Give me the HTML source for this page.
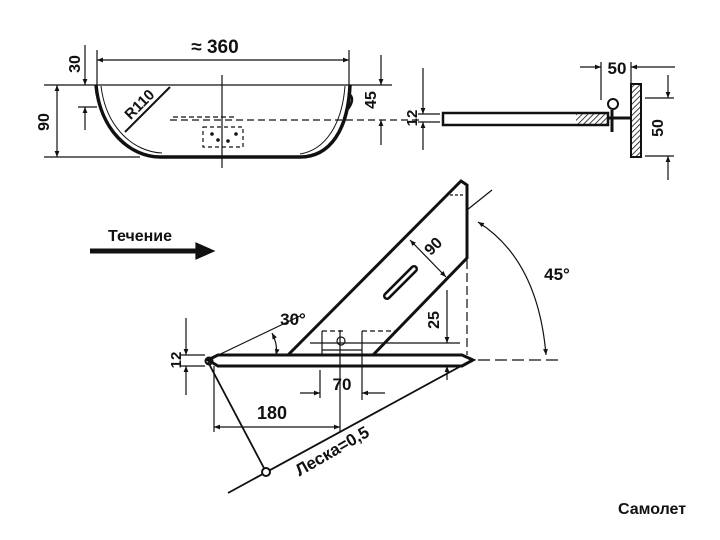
<!DOCTYPE html>
<html><head><meta charset="utf-8"><style>
html,body{margin:0;padding:0;background:#fff}
svg{display:block}
text{font-family:"Liberation Sans",sans-serif;font-weight:bold;fill:#111}
</style></head><body>
<svg width="720" height="540" viewBox="0 0 720 540" xmlns="http://www.w3.org/2000/svg">
<defs>
<marker id="a" viewBox="0 0 10 10" refX="10" refY="5" markerWidth="7" markerHeight="5" orient="auto-start-reverse"><path d="M0,1L10,5L0,9z" fill="#111"/></marker>
<pattern id="h" width="4" height="4" patternUnits="userSpaceOnUse" patternTransform="rotate(45)"><line x1="0" y1="0" x2="0" y2="4" stroke="#111" stroke-width="1.6"/></pattern>
</defs>
<g stroke="#111" fill="none" stroke-width="1.2">
<!-- top view -->
<line x1="44" y1="85" x2="392" y2="85"/>
<line x1="44" y1="157" x2="140" y2="157"/>
<path d="M96,85 C100,130 130,157 160,157 L300,157 C330,157 348,130 350,85" stroke-width="3.5"/>
<path d="M101,86 C106,128 134,152 162,153" stroke-width="1"/>
<path d="M345,86 C342,125 325,150 300,154" stroke-width="1"/>
<line x1="57" y1="85" x2="57" y2="157" marker-start="url(#a)" marker-end="url(#a)"/>
<line x1="85" y1="45" x2="85" y2="85" marker-end="url(#a)"/>
<line x1="85" y1="130" x2="85" y2="107" marker-end="url(#a)"/>
<line x1="78" y1="107" x2="97" y2="107"/>
<line x1="97" y1="50" x2="97" y2="85"/>
<line x1="349" y1="50" x2="349" y2="85"/>
<line x1="97" y1="60" x2="349" y2="60" marker-start="url(#a)" marker-end="url(#a)"/>
<line x1="170" y1="87" x2="125" y2="132" stroke-width="2"/>
<line x1="222" y1="75" x2="222" y2="168"/>
<line x1="170" y1="120" x2="420" y2="120" stroke-dasharray="7,4"/>
<line x1="173" y1="117" x2="235" y2="117" stroke-dasharray="5,3"/>
<rect x="203" y="127" width="40" height="20" stroke-dasharray="4,3"/>
<circle cx="212" cy="134" r="1.2" fill="#111"/><circle cx="236" cy="134" r="1.2" fill="#111"/><circle cx="218" cy="140" r="1.2" fill="#111"/><circle cx="228" cy="141" r="1.2" fill="#111"/>
<path d="M348,93 q8,5 0,16" stroke-width="2.5"/>
<line x1="381" y1="55" x2="381" y2="85" marker-end="url(#a)"/>
<line x1="381" y1="145" x2="381" y2="120" marker-end="url(#a)"/>
<!-- rod -->
<line x1="423" y1="68" x2="423" y2="114" marker-end="url(#a)"/>
<line x1="423" y1="150" x2="423" y2="122" marker-end="url(#a)"/>
<line x1="418" y1="114" x2="440" y2="114"/><line x1="418" y1="122" x2="440" y2="122"/>
<rect x="443" y="113" width="165" height="12" stroke-width="2.5"/>
<rect x="576" y="114" width="32" height="10" fill="url(#h)" stroke="none"/>
<line x1="608" y1="118" x2="631" y2="118" stroke-width="3"/>
<rect x="631" y="84" width="10" height="73" fill="url(#h)" stroke-width="2"/>
<circle cx="613" cy="104" r="5" stroke-width="2"/>
<line x1="612" y1="110" x2="612" y2="132" stroke-width="3"/>
<line x1="601" y1="62" x2="601" y2="100"/><line x1="631" y1="62" x2="631" y2="84"/>
<line x1="580" y1="67" x2="601" y2="67" marker-end="url(#a)"/>
<line x1="675" y1="67" x2="631" y2="67" marker-end="url(#a)"/>
<line x1="668" y1="75" x2="668" y2="98" marker-end="url(#a)"/>
<line x1="668" y1="180" x2="668" y2="156" marker-end="url(#a)"/>
<line x1="645" y1="98" x2="674" y2="98"/><line x1="645" y1="156" x2="674" y2="156"/>
<!-- flow arrow -->
<line x1="90" y1="251" x2="198" y2="251" stroke-width="5"/>
<path d="M196,243 L214,251 L196,259 z" fill="#111"/>
<!-- main -->
<path d="M208,360 L218,355 L462,355 L473,360 L462,366 L218,366 z" stroke-width="3"/>
<circle cx="209" cy="361" r="3.5" stroke-width="2"/>
<path d="M288,355 L461,181 L467,185 L467,258 L373,355" stroke-width="3"/>
<path d="M450,195 L465,195" stroke-dasharray="3,2"/>
<line x1="322" y1="331" x2="322" y2="355"/>
<line x1="322" y1="331" x2="345" y2="331" stroke-dasharray="5,3"/>
<line x1="362" y1="331" x2="362" y2="400"/>
<line x1="362" y1="331" x2="395" y2="331" stroke-dasharray="5,3"/>
<circle cx="341" cy="341" r="4"/>
<line x1="310" y1="343" x2="460" y2="343"/>
<line x1="322" y1="350" x2="362" y2="350"/>
<line x1="340" y1="330" x2="340" y2="432"/>
<line x1="320" y1="370" x2="320" y2="398"/>
<line x1="387" y1="296" x2="414" y2="269" stroke-width="8" stroke-linecap="round"/>
<line x1="387" y1="296" x2="414" y2="269" stroke="#fff" stroke-width="3" stroke-linecap="round"/>
<line x1="410" y1="240" x2="446" y2="277" marker-start="url(#a)" marker-end="url(#a)"/>
<line x1="447" y1="290" x2="447" y2="343" marker-end="url(#a)"/>
<line x1="447" y1="380" x2="447" y2="366" marker-end="url(#a)"/>
<line x1="467" y1="260" x2="467" y2="355" stroke-dasharray="9,4"/>
<line x1="478" y1="360" x2="560" y2="360" stroke-dasharray="12,5"/>
<line x1="467" y1="210" x2="492" y2="190"/>
<path d="M478,222 Q538,260 546,355" marker-start="url(#a)" marker-end="url(#a)"/>
<line x1="208" y1="360" x2="300" y2="316"/>
<path d="M272,333 Q278,345 276,355" marker-start="url(#a)" marker-end="url(#a)"/>
<line x1="186" y1="318" x2="186" y2="355" marker-end="url(#a)"/>
<line x1="186" y1="395" x2="186" y2="366" marker-end="url(#a)"/>
<line x1="180" y1="355" x2="205" y2="355"/><line x1="180" y1="366" x2="205" y2="366"/>
<line x1="300" y1="393" x2="320" y2="393" marker-end="url(#a)"/>
<line x1="385" y1="393" x2="362" y2="393" marker-end="url(#a)"/>
<line x1="214" y1="366" x2="214" y2="432"/>
<line x1="214" y1="427" x2="340" y2="427" marker-start="url(#a)" marker-end="url(#a)"/>
<line x1="208" y1="362" x2="265" y2="470" stroke-width="1.8"/>
<line x1="228" y1="493" x2="472" y2="360" stroke-width="1.8"/>
<circle cx="266" cy="472" r="4" stroke-width="2" fill="#fff"/>
</g>
<text x="215" y="53" font-size="19" text-anchor="middle">≈ 360</text>
<text transform="translate(80,64) rotate(-90)" font-size="16" text-anchor="middle">30</text>
<text transform="translate(49,122) rotate(-90)" font-size="16" text-anchor="middle">90</text>
<text transform="translate(143,108) rotate(-45)" font-size="15" text-anchor="middle">R110</text>
<text transform="translate(376,100) rotate(-90)" font-size="16" text-anchor="middle">45</text>
<text transform="translate(417,118) rotate(-90)" font-size="15" text-anchor="middle">12</text>
<text x="617" y="74" font-size="17" text-anchor="middle">50</text>
<text transform="translate(663,128) rotate(-90)" font-size="16" text-anchor="middle">50</text>
<text x="140" y="241" font-size="16" text-anchor="middle">Течение</text>
<text x="293" y="325" font-size="17" text-anchor="middle">30°</text>
<text transform="translate(181,360) rotate(-90)" font-size="15" text-anchor="middle">12</text>
<text transform="translate(437,250) rotate(-45)" font-size="16" text-anchor="middle">90</text>
<text transform="translate(439,320) rotate(-90)" font-size="16" text-anchor="middle">25</text>
<text x="557" y="280" font-size="17" text-anchor="middle">45°</text>
<text x="342" y="390" font-size="17" text-anchor="middle">70</text>
<text x="272" y="419" font-size="18" text-anchor="middle">180</text>
<text transform="translate(335,456) rotate(-30)" font-size="17" text-anchor="middle">Леска=0,5</text>
<text x="652" y="514" font-size="16" text-anchor="middle">Самолет</text>
</svg>
</body></html>
